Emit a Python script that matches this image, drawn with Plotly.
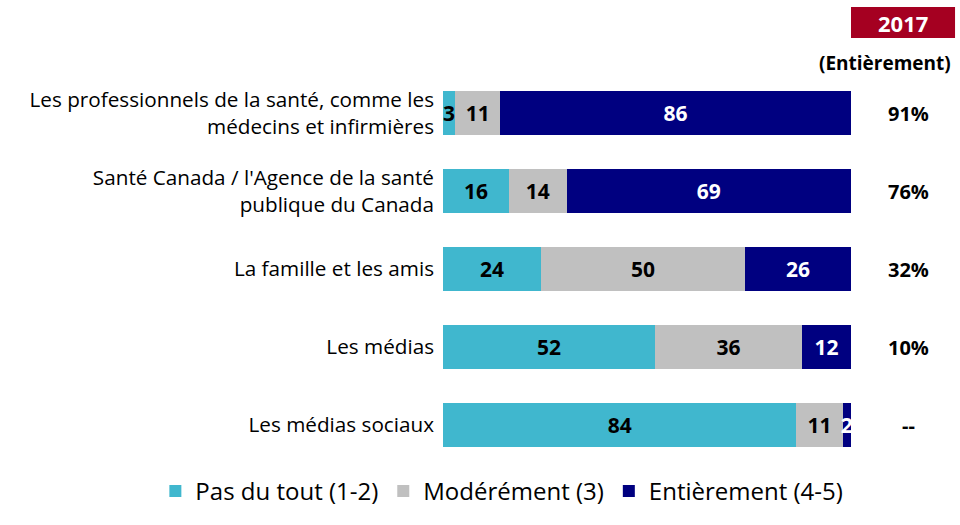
import plotly.graph_objects as go

categories = [
    "Les professionnels de la santé, comme les<br>médecins et infirmières",
    "Santé Canada / l'Agence de la santé<br>publique du Canada",
    "La famille et les amis",
    "Les médias",
    "Les médias sociaux",
]
pas_du_tout = [3, 16, 24, 52, 84]
moderement = [11, 14, 50, 36, 11]
entierement = [86, 69, 26, 12, 2]
col_2017 = ["91%", "76%", "32%", "10%", "--"]

series = [
    ("Pas du tout (1-2)", pas_du_tout, "#40B7CE", "black"),
    ("Modérément (3)", moderement, "#C0C0C0", "black"),
    ("Entièrement (4-5)", entierement, "#000080", "white"),
]

FONT = "'Open Sans', Lato, sans-serif"
fig = go.Figure()
for name, vals, color, tcolor in series:
    fig.add_trace(go.Bar(
        y=categories, x=vals, name=name, orientation="h",
        marker=dict(color=color, line=dict(width=0)),
        text=[str(v) for v in vals], textposition="inside",
        insidetextanchor="middle", constraintext="none",
        textfont=dict(color=tcolor, size=21, family=FONT, weight="bold"),
    ))

for cat, val in zip(categories, col_2017):
    fig.add_annotation(x=1.142, xref="paper", y=cat, yref="y", text=val,
                       xanchor="center", yanchor="middle",
                       showarrow=False, font=dict(size=20, family=FONT, color="black", weight="bold"))

fig.add_annotation(x=1.083, xref="paper", y=1.028, yref="paper", text="(Entièrement)",
                   xanchor="center", yanchor="middle",
                   showarrow=False, font=dict(size=19, family=FONT, color="black", weight="bold"))
fig.add_shape(type="rect", xref="paper", yref="paper", x0=1.0, x1=1.255, y0=1.092, y1=1.172,
              fillcolor="#A50021", line=dict(width=0), layer="below")
fig.add_annotation(x=1.1275, xref="paper", y=1.132, yref="paper", text="2017",
                   xanchor="center", yanchor="middle",
                   showarrow=False, font=dict(size=22, family=FONT, color="white", weight="bold"))

fig.update_layout(
    width=960, height=525,
    margin=dict(l=443, r=109, t=74, b=61, autoexpand=False),
    barmode="stack", barnorm="percent", bargap=0.44,
    plot_bgcolor="white", paper_bgcolor="white",
    uniformtext=dict(minsize=21, mode="show"),
    showlegend=True,
    legend=dict(orientation="h", x=-0.705, xanchor="left", y=-0.07, yanchor="middle",
                traceorder="normal",
                font=dict(size=24, family=FONT, color="black")),
    font=dict(family=FONT),
)
fig.update_xaxes(range=[0, 100], visible=False, showgrid=False)
fig.update_yaxes(autorange="reversed", showgrid=False, showline=False,
                 tickfont=dict(size=20.7, family=FONT, color="black"), ticklabelstandoff=8)

fig.write_html("out.html")
